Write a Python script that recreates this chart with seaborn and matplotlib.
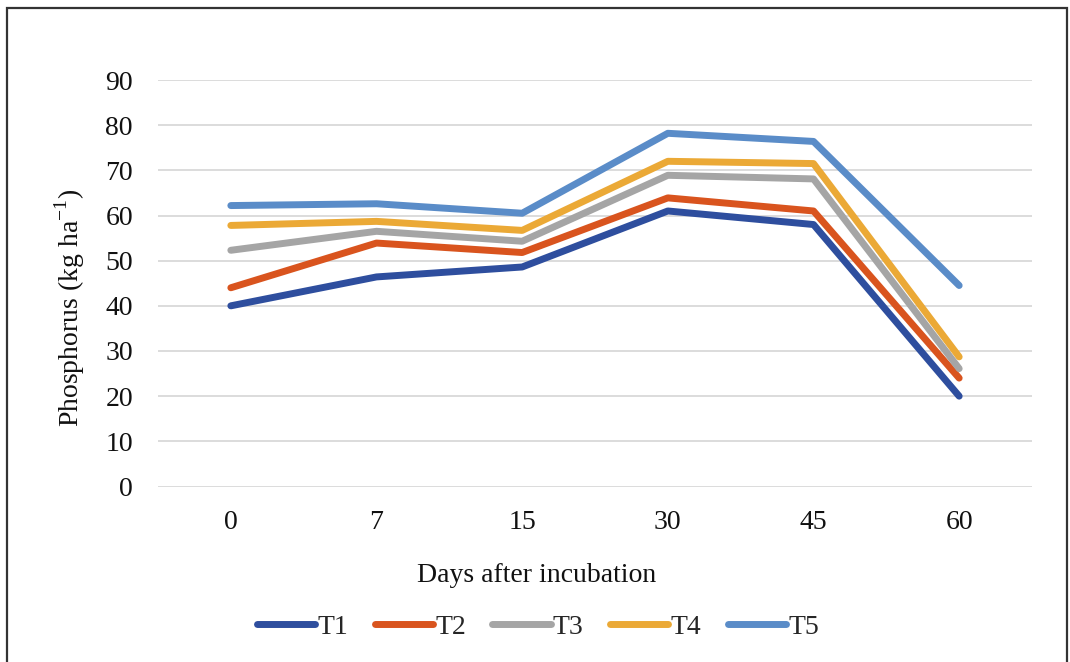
import matplotlib
matplotlib.use("Agg")
import matplotlib.pyplot as plt
from matplotlib.patches import Rectangle
import pandas as pd
import seaborn as sns

# Sampling days after incubation (categorical axis)
days = ["0", "7", "15", "30", "45", "60"]

# Available phosphorus (kg ha-1) per treatment
t1 = [40.0, 46.4, 48.6, 61.0, 58.0, 20.0]
t2 = [44.0, 53.9, 51.8, 63.9, 61.0, 24.0]
t3 = [52.3, 56.5, 54.3, 68.9, 68.1, 26.1]
t4 = [57.8, 58.7, 56.7, 72.0, 71.5, 28.7]
t5 = [62.2, 62.6, 60.5, 78.2, 76.4, 44.5]

treatments = ["T1", "T2", "T3", "T4", "T5"]
series = [t1, t2, t3, t4, t5]
colors = ["#2E4E9E", "#D9541E", "#A5A5A5", "#EBA936", "#5A8CC8"]

df = pd.DataFrame(
    [(d, name, v) for name, vals in zip(treatments, series) for d, v in zip(days, vals)],
    columns=["Day", "Treatment", "Phosphorus"],
)

sns.set_theme(style="white")
plt.rcParams["font.family"] = ["Liberation Serif", "DejaVu Serif"]
plt.rcParams["mathtext.fontset"] = "custom"
plt.rcParams["mathtext.rm"] = "Liberation Serif"

FS = 20

fig = plt.figure(figsize=(10.7, 6.62), dpi=100)
ax = fig.add_axes([158 / 1070, 1 - 486.5 / 662, (1032 - 158) / 1070, (486.5 - 80) / 662])

sns.lineplot(
    data=df, x="Day", y="Phosphorus", hue="Treatment",
    palette=colors, hue_order=treatments, sort=False,
    linewidth=5, ax=ax, legend=True,
)
for ln in ax.get_lines():
    ln.set_solid_capstyle("round")
    ln.set_solid_joinstyle("round")

ax.set_xlim(-0.5, 5.5)
ax.set_ylim(0, 90)
ax.set_yticks(range(0, 91, 10))
ax.yaxis.grid(True, color="#D9D9D9", linewidth=1.3)
ax.xaxis.grid(False)
ax.set_axisbelow(True)
for s in ax.spines.values():
    s.set_visible(False)
ax.tick_params(axis="both", length=0, labelsize=FS, colors="#111111")
ax.tick_params(axis="y", pad=18)
ax.tick_params(axis="x", pad=17)

ax.set_xlabel("")
ax.set_ylabel(r"Phosphorus (kg ha$^{\mathregular{-1}}$)", fontsize=FS, color="#111111")
ax.yaxis.set_label_coords(-0.081, 0.44)
fig.text(537 / 1070, 1 - 575 / 662, "Days after incubation", ha="center", va="center",
         fontsize=FS, color="#111111")

handles, labels = ax.get_legend_handles_labels()
ax.get_legend().remove()
for h in handles:
    h.set_linewidth(5)
    h.set_solid_capstyle("round")
leg = fig.legend(
    handles, labels, loc="center", bbox_to_anchor=(538 / 1070, 1 - 627 / 662),
    ncol=5, frameon=False, fontsize=FS, handlelength=2.1, handletextpad=0.08,
    columnspacing=0.95,
)

# Outer chart border
fig.patches.append(Rectangle((7 / 1070, -0.05), (1067 - 7) / 1070, 1.05 - 8 / 662,
                             transform=fig.transFigure, fill=False,
                             edgecolor="#333333", linewidth=1.6))

fig.savefig("out.png", dpi=100, facecolor="white")
